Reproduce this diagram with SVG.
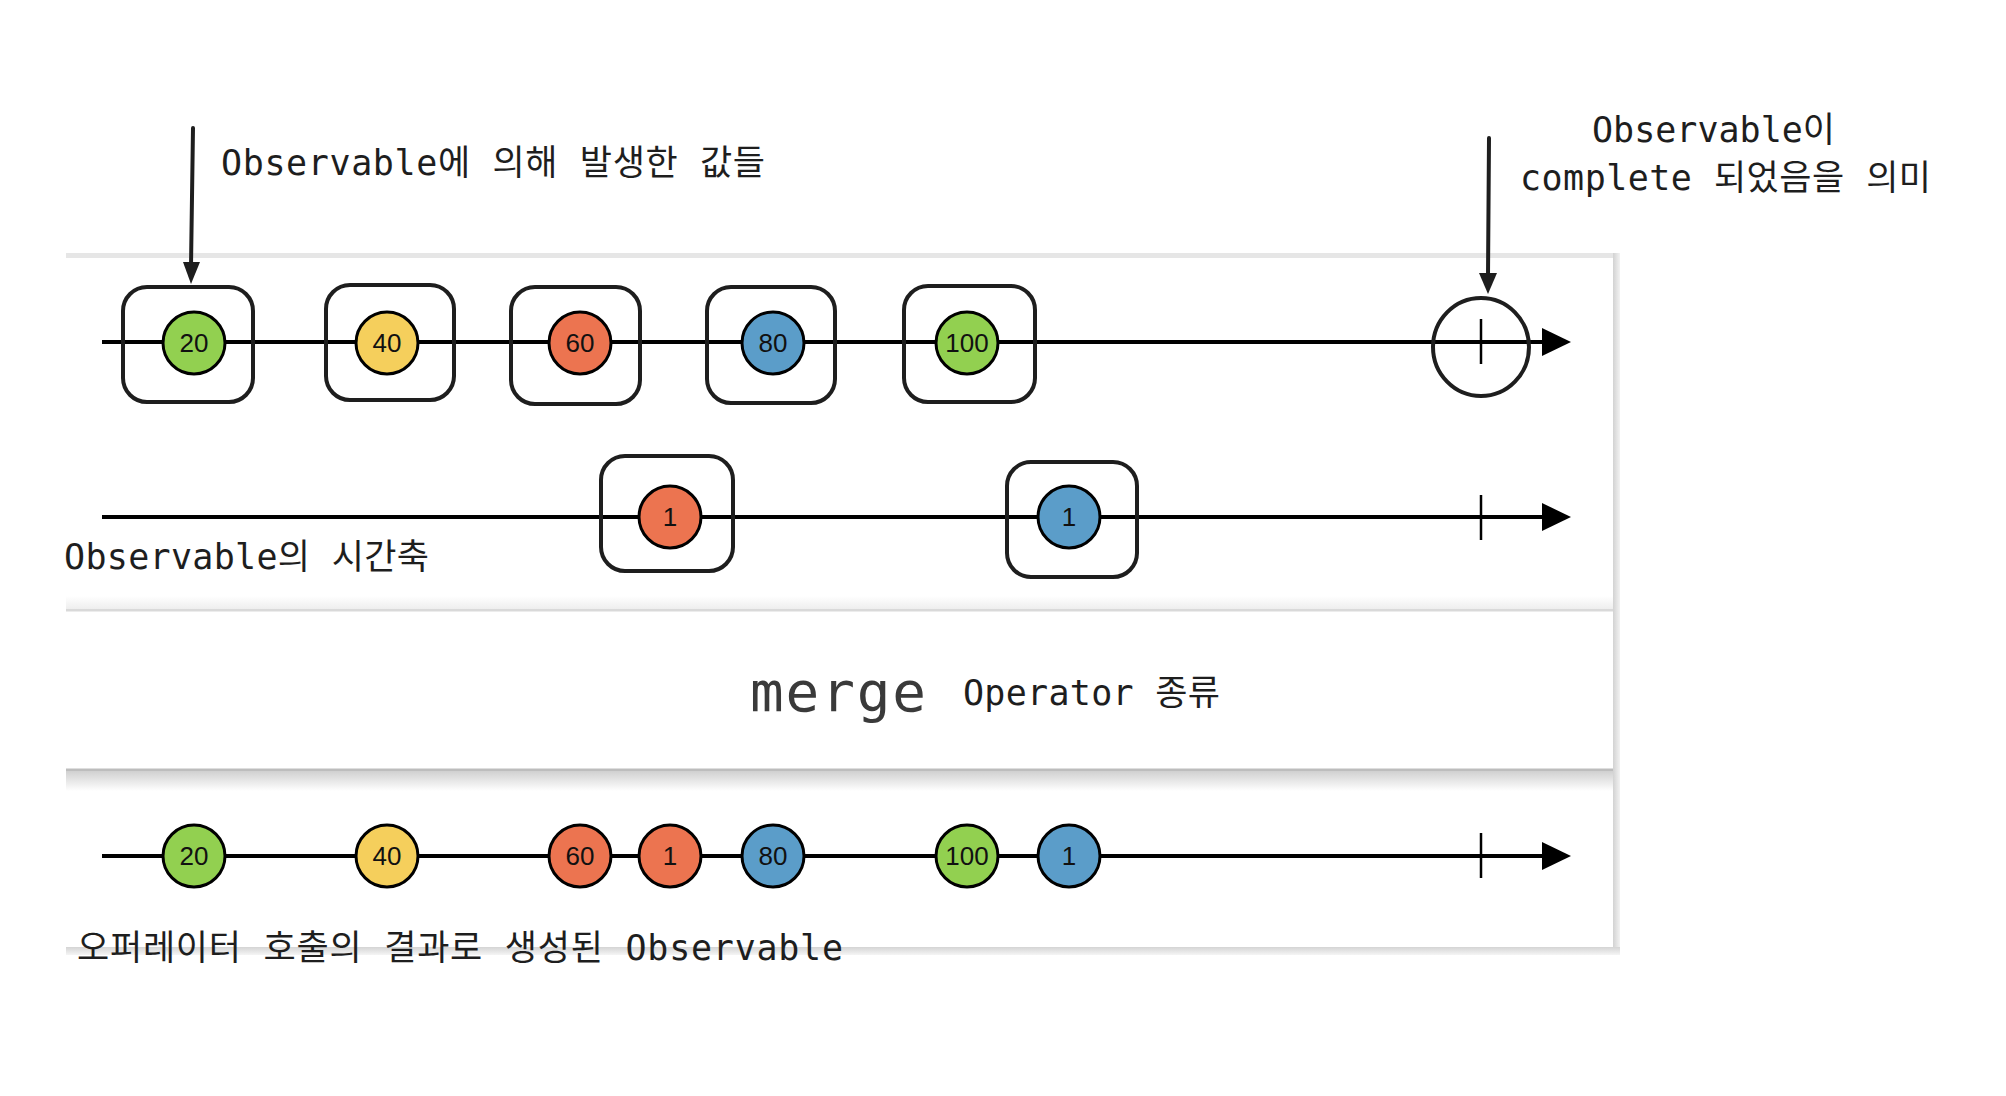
<svg xmlns="http://www.w3.org/2000/svg" width="2006" height="1096" viewBox="0 0 2006 1096">
<defs>
<style>
.hand{font-family:"DejaVu Sans Mono","Noto Sans CJK KR",monospace;font-size:35px;fill:#1e1e1e;}
.num{font-family:"Liberation Sans","Noto Sans",sans-serif;font-size:26px;fill:#111;text-anchor:middle;}
.box{fill:none;stroke:#1e1e1e;stroke-width:4;}
.marble{stroke:#000;stroke-width:3;}
.g{fill:#92d050;}.y{fill:#f5cf5c;}.o{fill:#ec7450;}.b{fill:#5b9dc9;}
.axis{stroke:#000;stroke-width:4;fill:none;}
.tick{stroke:#000;stroke-width:2.5;}
.ann{stroke:#1e1e1e;stroke-width:4;fill:none;stroke-linecap:round;}
</style>
<linearGradient id="rs" x1="0" y1="0" x2="1" y2="0"><stop offset="0" stop-color="#d2d2d2"/><stop offset="1" stop-color="#f2f2f2"/></linearGradient>
<linearGradient id="bs" x1="0" y1="0" x2="0" y2="1"><stop offset="0" stop-color="#d4d4d4"/><stop offset="1" stop-color="#f5f5f5"/></linearGradient>
<linearGradient id="up" x1="0" y1="0" x2="0" y2="1"><stop offset="0" stop-color="#ffffff"/><stop offset="1" stop-color="#eeeeee"/></linearGradient>
<linearGradient id="down" x1="0" y1="0" x2="0" y2="1"><stop offset="0" stop-color="#d0d0d0"/><stop offset="1" stop-color="#ffffff"/></linearGradient>
</defs>
<rect width="2006" height="1096" fill="#ffffff"/>
<g id="panel">
<rect x="66" y="253" width="1554" height="5" fill="#e6e6e6"/>
<rect x="1613" y="253" width="7" height="702" fill="url(#rs)"/>
<rect x="66" y="947" width="1554" height="8" fill="url(#bs)"/>
<rect x="66" y="258" width="1547" height="689" fill="#ffffff"/>
<rect x="66" y="596" width="1547" height="13" fill="url(#up)"/>
<rect x="66" y="609" width="1547" height="2.5" fill="#d9d9d9"/>
<rect x="66" y="768.5" width="1547" height="2.5" fill="#bdbdbd"/>
<rect x="66" y="771" width="1547" height="20" fill="url(#down)"/>
</g>
<g id="connectors">
<line class="axis" x1="102" y1="342" x2="1548" y2="342"/>
<polygon points="1542,328 1542,356 1571,342" fill="#000"/>
<line class="axis" x1="102" y1="517" x2="1548" y2="517"/>
<polygon points="1542,503 1542,531 1571,517" fill="#000"/>
<line class="axis" x1="102" y1="856" x2="1548" y2="856"/>
<polygon points="1542,842 1542,870 1571,856" fill="#000"/>
<line class="tick" x1="1481" y1="319" x2="1481" y2="364"/>
<line class="tick" x1="1481" y1="495" x2="1481" y2="540"/>
<line class="tick" x1="1481" y1="833" x2="1481" y2="878"/>
<line class="ann" x1="193" y1="128" x2="191" y2="266"/>
<polygon points="183,262 200,262 191,284" fill="#1e1e1e"/>
<line class="ann" x1="1489" y1="138" x2="1488" y2="276"/>
<polygon points="1479,273 1497,273 1488,294" fill="#1e1e1e"/>
</g>
<g id="complete">
<ellipse cx="1481" cy="347" rx="48" ry="49" class="box"/>
</g>
<g id="box20"><rect class="box" x="123" y="287" width="130" height="115" rx="24"/></g>
<g id="box40"><rect class="box" x="326" y="285" width="128" height="115" rx="24"/></g>
<g id="box60"><rect class="box" x="511" y="287" width="129" height="117" rx="24"/></g>
<g id="box80"><rect class="box" x="707" y="287" width="128" height="116" rx="24"/></g>
<g id="box100"><rect class="box" x="904" y="286" width="131" height="116" rx="24"/></g>
<g id="box1a"><rect class="box" x="601" y="456" width="132" height="115" rx="24"/></g>
<g id="box1b"><rect class="box" x="1007" y="462" width="130" height="115" rx="24"/></g>
<g id="row1">
<g id="m1-20"><circle class="marble g" cx="194" cy="343" r="31"/><text class="num" x="194" y="352">20</text></g>
<g id="m1-40"><circle class="marble y" cx="387" cy="343" r="31"/><text class="num" x="387" y="352">40</text></g>
<g id="m1-60"><circle class="marble o" cx="580" cy="343" r="31"/><text class="num" x="580" y="352">60</text></g>
<g id="m1-80"><circle class="marble b" cx="773" cy="343" r="31"/><text class="num" x="773" y="352">80</text></g>
<g id="m1-100"><circle class="marble g" cx="967" cy="343" r="31"/><text class="num" x="967" y="352">100</text></g>
</g>
<g id="row2">
<g id="m2-1a"><circle class="marble o" cx="670" cy="517" r="31"/><text class="num" x="670" y="526">1</text></g>
<g id="m2-1b"><circle class="marble b" cx="1069" cy="517" r="31"/><text class="num" x="1069" y="526">1</text></g>
</g>
<g id="row3">
<g id="m3-20"><circle class="marble g" cx="194" cy="856" r="31"/><text class="num" x="194" y="865">20</text></g>
<g id="m3-40"><circle class="marble y" cx="387" cy="856" r="31"/><text class="num" x="387" y="865">40</text></g>
<g id="m3-60"><circle class="marble o" cx="580" cy="856" r="31"/><text class="num" x="580" y="865">60</text></g>
<g id="m3-1a"><circle class="marble o" cx="670" cy="856" r="31"/><text class="num" x="670" y="865">1</text></g>
<g id="m3-80"><circle class="marble b" cx="773" cy="856" r="31"/><text class="num" x="773" y="865">80</text></g>
<g id="m3-100"><circle class="marble g" cx="967" cy="856" r="31"/><text class="num" x="967" y="865">100</text></g>
<g id="m3-1b"><circle class="marble b" cx="1069" cy="856" r="31"/><text class="num" x="1069" y="865">1</text></g>
</g>
<g id="labels">
<text class="hand" x="221" y="175" textLength="544">Observable에 의해 발생한 값들</text>
<text class="hand" x="1592" y="142" textLength="243">Observable이</text>
<text class="hand" x="1520" y="190" textLength="411">complete 되었음을 의미</text>
<text class="hand" x="64" y="569" textLength="365">Observable의 시간축</text>
<text x="750" y="711" textLength="176" style="font-family:'DejaVu Sans Mono',monospace;font-size:56px;fill:#3a3a3a;">merge</text>
<text class="hand" x="963" y="705" textLength="257">Operator 종류</text>
<text class="hand" x="77" y="960" textLength="766">오퍼레이터 호출의 결과로 생성된 Observable</text>
</g>
</svg>
